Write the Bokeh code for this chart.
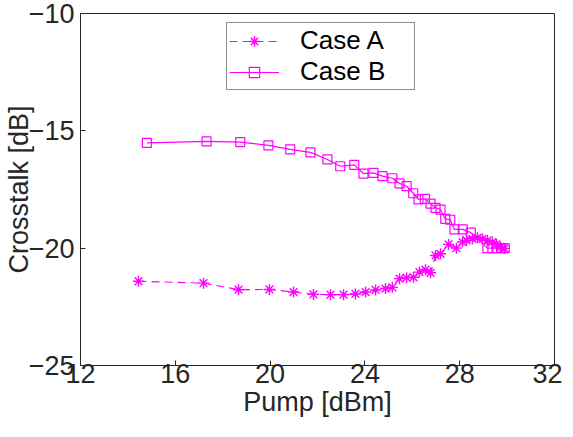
from bokeh.plotting import figure
from bokeh.models import Range1d, FixedTicker, Legend, LegendItem
from bokeh.embed import file_html
from bokeh.resources import INLINE

# Case A (asterisks, dashed)
pump_a = [14.45, 17.19, 18.67, 19.97, 20.99, 21.83, 22.55, 23.10, 23.60, 24.03,
          24.45, 24.87, 25.16, 25.46, 25.76, 26.05, 26.30, 26.56, 26.77, 26.98,
          27.19, 27.53, 27.86, 28.12, 28.29, 28.54, 28.75, 28.96, 29.17, 29.38,
          29.55, 29.72, 29.89]
xt_a = [-21.41, -21.49, -21.77, -21.76, -21.87, -21.97, -21.98, -21.98, -21.95, -21.87,
        -21.78, -21.72, -21.67, -21.30, -21.26, -21.24, -21.02, -20.92, -21.05, -20.31,
        -20.24, -19.84, -20.00, -19.74, -19.67, -19.60, -19.56, -19.60, -19.67, -19.74,
        -19.84, -19.96, -20.01]

# Case B (squares, solid)
pump_b = [14.80, 17.32, 18.74, 19.93, 20.85, 21.70, 22.42, 22.96, 23.55, 23.94,
          24.36, 24.74, 25.16, 25.46, 25.76, 26.04, 26.26, 26.53, 26.77, 26.98,
          27.19, 27.39, 27.60, 27.78, 28.13, 28.47, 29.17, 29.38, 29.59, 29.75, 29.90]
xt_b = [-15.51, -15.45, -15.48, -15.62, -15.79, -15.92, -16.22, -16.51, -16.45, -16.82,
        -16.79, -16.93, -17.02, -17.24, -17.36, -17.66, -17.92, -17.90, -18.10, -18.28,
        -18.36, -18.75, -18.79, -19.20, -19.20, -19.34, -20.00, -20.00, -20.00, -20.00, -20.00]

x_ticks = [12, 16, 20, 24, 28, 32]
y_ticks = [-25, -20, -15, -10]

FONT = "Liberation Sans"
AX = "#262626"
MAG = "#ff00ff"

p = figure(frame_width=474, frame_height=352, output_backend="svg", toolbar_location=None,
           x_range=Range1d(12, 32), y_range=Range1d(-25, -10),
           min_border_left=75, min_border_right=8, min_border_top=13, min_border_bottom=58)

p.grid.visible = False
p.outline_line_color = AX
p.outline_line_width = 1
p.background_fill_color = "white"
p.border_fill_color = "white"

for ax in (p.xaxis[0], p.yaxis[0]):
    ax.axis_line_color = AX
    ax.major_tick_line_color = AX
    ax.major_tick_in = 5
    ax.major_tick_out = 0
    ax.minor_tick_line_color = None
    ax.major_label_text_font = FONT
    ax.major_label_text_font_size = "27px"
    ax.major_label_text_color = AX
    ax.axis_label_text_font = FONT
    ax.axis_label_text_font_size = "27px"
    ax.axis_label_text_font_style = "normal"
    ax.axis_label_text_color = AX

p.xaxis.ticker = FixedTicker(ticks=x_ticks)
p.yaxis.ticker = FixedTicker(ticks=y_ticks)
p.xaxis.axis_label = "Pump [dBm]"
p.yaxis.axis_label = "Crosstalk [dB]"
p.xaxis.major_label_standoff = -2
p.yaxis.major_label_standoff = 6
p.xaxis.axis_label_standoff = 1
p.yaxis.axis_label_standoff = -8

la = p.line(pump_a, xt_a, line_color=MAG, line_width=1.2, line_dash="8 5")
sa = p.scatter(pump_a, xt_a, marker="asterisk", size=11, line_color=MAG, line_width=1.4)
lb = p.line(pump_b, xt_b, line_color=MAG, line_width=1.2)
sb = p.scatter(pump_b, xt_b, marker="square", size=9, line_color=MAG, fill_color=None, line_width=1.2)

legend = Legend(items=[LegendItem(label="Case A", renderers=[la, sa]),
                       LegendItem(label="Case B", renderers=[lb, sb])],
                location=(146, 275), orientation="vertical")
legend.label_text_font = FONT
legend.label_text_font_size = "26px"
legend.label_text_color = "black"
legend.border_line_color = AX
legend.border_line_width = 1
legend.background_fill_color = "white"
legend.background_fill_alpha = 1
legend.glyph_width = 50
legend.glyph_height = 26
legend.label_height = 26
legend.label_width = 112
legend.label_standoff = 21
legend.padding = 2
legend.spacing = 0
legend.margin = 0
p.add_layout(legend, "center")

open("out.html", "w").write(file_html(p, INLINE))
